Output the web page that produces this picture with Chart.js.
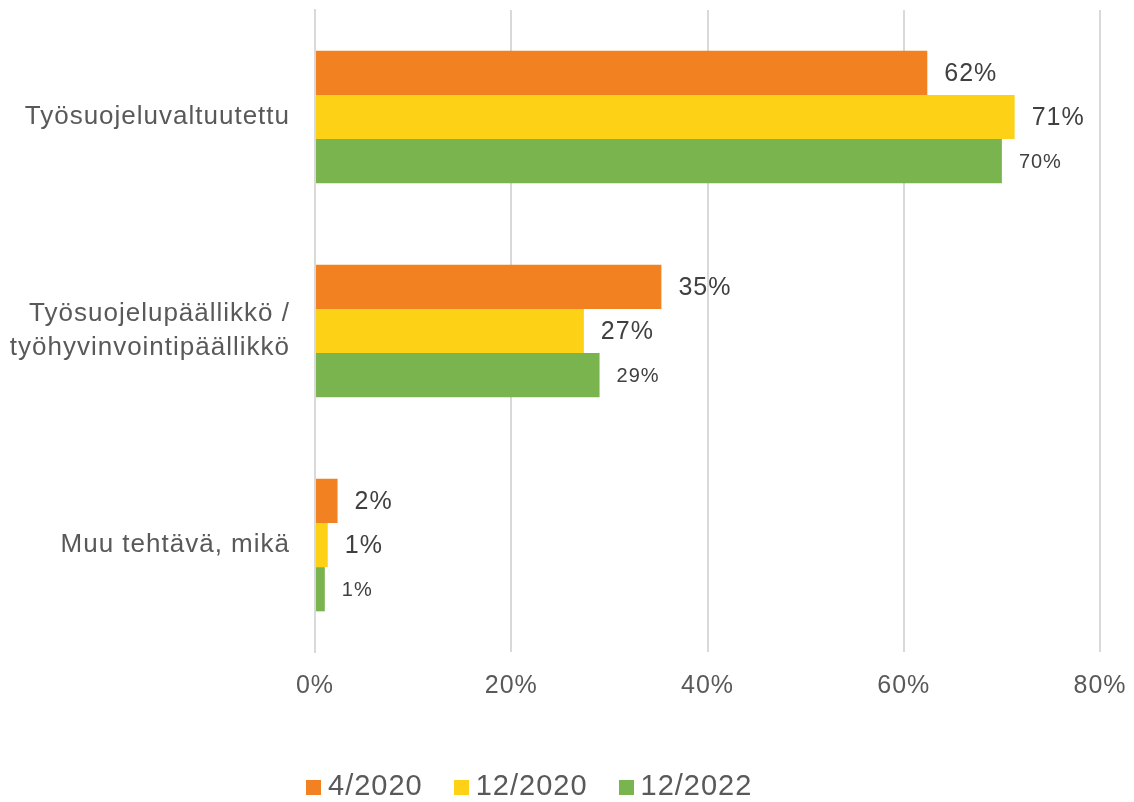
<!DOCTYPE html>
<html>
<head>
<meta charset="utf-8">
<script src="https://cdn.jsdelivr.net/npm/chart.js@4.4.1/dist/chart.umd.min.js"></script>
<style>
  html, body { margin: 0; padding: 0; background: #fff; }
  #wrap { position: relative; width: 1134px; height: 802px; overflow: hidden; }
  #legend {
    position: absolute; left: 306px; top: 770px;
    display: flex; gap: 31px; white-space: nowrap;
    font: 29px 'Liberation Sans', Arial, sans-serif; letter-spacing: 1px;
    line-height: 30px; color: #595959;
  }
  #legend span i {
    display: inline-block; width: 15px; height: 15px; margin-right: 7px;
    vertical-align: baseline;
  }
</style>
</head>
<body>
<div id="wrap">
  <canvas id="chart" width="1134" height="802"></canvas>
  <div id="legend"></div>
</div>
<script>
const categories = [
  "Työsuojeluvaltuutettu",
  ["Työsuojelupäällikkö /", "työhyvinvointipäällikkö"],
  "Muu tehtävä, mikä"
];
const seriesNames = ["4/2020", "12/2020", "12/2022"];
const values2020a = [62.4, 35.3, 2.3];
const values2020b = [71.3, 27.4, 1.3];
const values2022 = [70.0, 29.0, 1.0];
const shownLabels = [
  ["62%", "35%", "2%"],
  ["71%", "27%", "1%"],
  ["70%", "29%", "1%"]
];
const xTicks = [0, 20, 40, 60, 80];

const COLORS = ["#F28121", "#FDD116", "#7AB44E"];
const FONT = "'Liberation Sans', Arial, sans-serif";

// a little extra letter spacing, closer to the original typeface
const spacing = {
  id: "spacing",
  beforeLayout(chart) { chart.ctx.letterSpacing = "1px"; },
  beforeDraw(chart) { chart.ctx.letterSpacing = "1px"; }
};

// draws the value labels just right of each bar
const valueLabels = {
  id: "valueLabels",
  afterDatasetsDraw(chart) {
    const ctx = chart.ctx;
    ctx.save();
    ctx.fillStyle = "#404040";
    ctx.textBaseline = "middle";
    ctx.textAlign = "left";
    chart.data.datasets.forEach((ds, i) => {
      const size = i === 2 ? 20 : 25;
      ctx.font = `${size}px ${FONT}`;
      chart.getDatasetMeta(i).data.forEach((bar, j) => {
        ctx.fillText(shownLabels[i][j], bar.x + 17, bar.y + 1);
      });
    });
    ctx.restore();
  }
};

new Chart(document.getElementById("chart"), {
  type: "bar",
  data: {
    labels: categories,
    datasets: [
      { label: seriesNames[0], data: values2020a, backgroundColor: COLORS[0] },
      { label: seriesNames[1], data: values2020b, backgroundColor: COLORS[1] },
      { label: seriesNames[2], data: values2022, backgroundColor: COLORS[2] }
    ]
  },
  options: {
    responsive: false,
    animation: false,
    indexAxis: "y",
    datasets: { bar: { categoryPercentage: 0.62, barPercentage: 1.0, borderWidth: 0 } },
    layout: { padding: { top: 10, right: 34, left: 0, bottom: 50 } },
    scales: {
      x: {
        min: 0,
        max: 80,
        afterBuildTicks: (scale) => { scale.ticks = xTicks.map((v) => ({ value: v })); },
        afterFit: (scale) => {
          scale.height = 100;
          scale.paddingLeft = 0;
          scale.paddingRight = 0;
        },
        grid: { color: "#D9D9D9", lineWidth: 2, drawTicks: false },
        border: { display: false },
        ticks: {
          color: "#595959",
          padding: 19,
          font: { family: FONT, size: 25 },
          callback: (v) => v + "%"
        }
      },
      y: {
        afterFit: (scale) => {
          scale.width = 315;
          scale.paddingTop = 0;
          scale.paddingBottom = 0;
        },
        grid: { display: false, drawTicks: false },
        border: { display: true, color: "#D9D9D9", width: 2 },
        ticks: {
          color: "#595959",
          padding: 25,
          font: { family: FONT, size: 26, lineHeight: 1.33 }
        }
      }
    },
    plugins: {
      legend: { display: false },
      tooltip: { enabled: false }
    }
  },
  plugins: [spacing, valueLabels]
});

document.getElementById("legend").innerHTML = seriesNames
  .map((name, i) => `<span><i style="background:${COLORS[i]}"></i>${name}</span>`)
  .join("");
</script>
</body>
</html>
